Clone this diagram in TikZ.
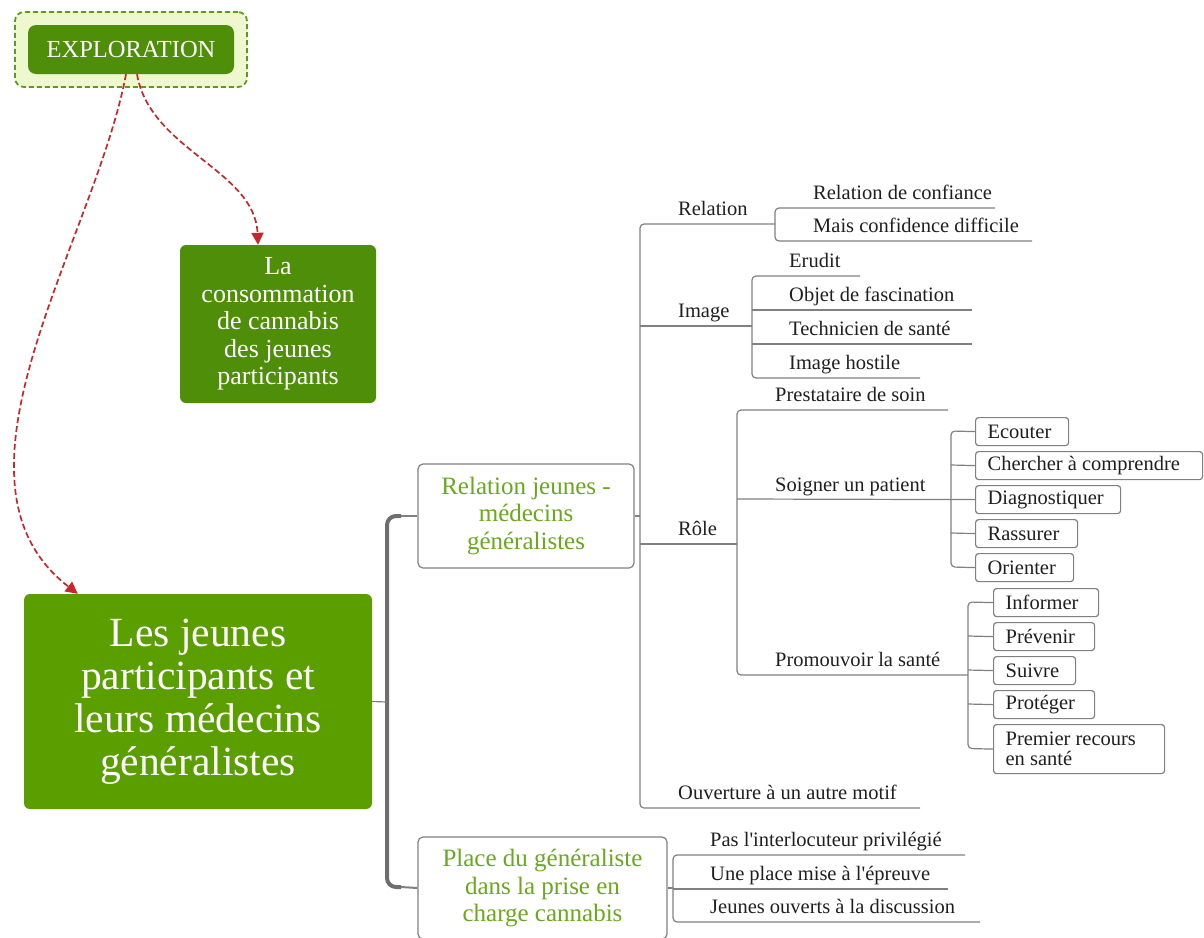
\documentclass[tikz,border=0pt]{standalone}
\usepackage{fontspec}
\setmainfont{Liberation Serif}[Ligatures=TeXOff]
\usetikzlibrary{arrows.meta}
\definecolor{dkgreen}{HTML}{4E8E08}
\definecolor{mgreen}{HTML}{5A9E00}
\definecolor{lgfill}{HTML}{EEF7CD}
\definecolor{dashgreen}{HTML}{5E9A1E}
\definecolor{txgreen}{HTML}{6AA81E}
\definecolor{lnk}{HTML}{808080}
\definecolor{bar}{HTML}{6E6E6E}
\definecolor{arr}{HTML}{C4282A}
\definecolor{txt}{HTML}{1F1F1F}
\begin{document}
\begin{tikzpicture}[x=1pt,y=-1pt,
  conn/.style={draw=lnk,line width=1.2pt},
  rconn/.style={conn,rounded corners=4pt},
  lbl/.style={anchor=base west,inner sep=0pt,text=txt,font=\fontsize{20.5}{24}\selectfont},
  leaf/.style={draw=lnk,line width=1.2pt,rounded corners=3pt,fill=white,anchor=north west,
    inner xsep=12pt,inner ysep=0pt,minimum height=28pt,text width=#1,align=flush left,
    text=txt,font=\fontsize{20.5}{20}\selectfont},
  greenbox/.style={rounded corners=6pt,text=white,align=center,inner sep=0pt},
  topic/.style={draw=lnk,line width=1.2pt,rounded corners=5pt,fill=white,align=center,
    text=txgreen,inner sep=0pt,font=\fontsize{25}{27.5}\selectfont},
  redarrow/.style={draw=arr,line width=1.7pt,dash pattern=on 6pt off 3pt,
    -{Triangle[length=12pt,width=12pt]}}
]
\useasboundingbox (0,0) rectangle (1204,937);
\clip (0,0) rectangle (1204,937);

% ---------- green boxes ----------
\node[draw=dashgreen,dash pattern=on 5pt off 3pt,line width=1.8pt,fill=lgfill,
  rounded corners=9pt,minimum width=232pt,minimum height=75pt] (exploouter) at (131,49.5) {};
\node[greenbox,fill=dkgreen,rounded corners=8pt,minimum width=206pt,minimum height=49pt,
  font=\fontsize{24.5}{27}\selectfont] (explo) at (131,49.5) {EXPLORATION};
\node[greenbox,fill=dkgreen,minimum width=196pt,minimum height=158pt,
  font=\fontsize{26}{27.5}\selectfont] (conso) at (278,324)
  {La\\consommation\\de cannabis\\des jeunes\\participants};
\node[greenbox,fill=mgreen,minimum width=348pt,minimum height=215pt,
  font=\fontsize{41.5}{43}\selectfont] (main) at (198,701.5)
  {Les jeunes\\participants et\\leurs médecins\\généralistes};

% ---------- red dashed arrows ----------
\draw[redarrow] ([xshift=-5pt]explo.south) .. controls (95,240) and (-70,480) .. ([xshift=54pt]main.north west);
\draw[redarrow] ([xshift=6pt]explo.south) .. controls (150,150) and (255,170) .. ([xshift=-20pt]conso.north);

% ---------- topics ----------
\node[topic,minimum width=216pt,minimum height=104pt] (relj) at (526,516)
  {Relation jeunes -\\médecins\\généralistes};
\node[topic,minimum width=249pt,minimum height=102pt] (place) at (542.5,888)
  {Place du généraliste\\dans la prise en\\charge cannabis};

\coordinate (barT) at (387,516);
\coordinate (barB) at (387,887);
\coordinate (barM) at (387,702);
\draw[draw=bar,line width=4pt,rounded corners=9pt] (401,516) -- (barT) -- (barB) -- (401,887);
\draw[draw=lnk,line width=2pt] (401,516) -- (relj.west);
\draw[draw=lnk,line width=2pt] (401,887) -- (place.west);
\draw[conn] (main.east) -- (barM);

% ---------- level 2 under Relation jeunes ----------
\coordinate (v2T) at (640,224);
\coordinate (v2B) at (640,808);
\coordinate (ouvE) at (920,808);
\draw[rconn] (775,224) -- (v2T) -- (v2B) -- (ouvE);
\draw[conn] (relj.east) -- (640,516);
\node[lbl] (lrel) at (678,215) {Relation};
\node[lbl] (limg) at (678,317) {Image};
\node[lbl] (lrole) at (678,535) {Rôle};
\node[lbl] (louv) at (678,799) {Ouverture à un autre motif};

% Relation children
\draw[rconn] (995,208) -- (775,208) -- (775,241) -- (1032,241);
\node[lbl] (rc1) at (813,199) {Relation de confiance};
\node[lbl] (rc2) at (813,232) {Mais confidence difficile};

% Image children
\draw[conn] (640,326) -- (752,326);
\draw[rconn] (860,276) -- (752,276) -- (752,378) -- (920,378);
\draw[conn] (752,310) -- (972,310);
\draw[conn] (752,344) -- (972,344);
\node[lbl] (ic1) at (789,267) {Erudit};
\node[lbl] (ic2) at (789,301) {Objet de fascination};
\node[lbl] (ic3) at (789,335) {Technicien de santé};
\node[lbl] (ic4) at (789,369) {Image hostile};

% Rôle children
\draw[conn] (640,544) -- (737,544);
\draw[rconn] (948,410) -- (737,410) -- (737,675) -- (968,675);
\node[lbl] (pres) at (775,401) {Prestataire de soin};
\node[lbl] (soig) at (775,491) {Soigner un patient};
\node[lbl] (prom) at (775,666) {Promouvoir la santé};

% Soigner un patient boxes
\node[leaf=69pt] (ecou) at (975,417) {Ecouter};
\node[leaf=203pt] (cher) at (975,451) {Chercher à comprendre};
\node[leaf=121pt] (diag) at (975,485) {Diagnostiquer};
\node[leaf=78pt] (rass) at (975,519) {Rassurer};
\node[leaf=74pt] (orie) at (975,553) {Orienter};
\draw[conn] (737,499) -- (diag.west);
\draw[rconn] (ecou.west) -- (951,431) -- (951,567) -- (orie.west);
\draw[conn] (951,465) -- (cher.west);
\draw[conn] (951,533) -- (rass.west);

% Promouvoir la santé boxes
\node[leaf=81pt] (info) at (993,588) {Informer};
\node[leaf=77pt] (prev) at (993,622) {Prévenir};
\node[leaf=58pt] (suiv) at (993,656) {Suivre};
\node[leaf=77pt] (prot) at (993,690) {Protéger};
\node[leaf=147pt,minimum height=49pt] (prem) at (993,724) {Premier recours\\en santé};
\draw[rconn] (info.west) -- (968,602) -- (968,748.5) -- (prem.west);
\draw[conn] (968,636) -- (prev.west);
\draw[conn] (968,670) -- (suiv.west);
\draw[conn] (968,704) -- (prot.west);

% ---------- Place du généraliste children ----------
\draw[conn] (place.east) -- (673,888);
\draw[rconn] (965,855) -- (673,855) -- (673,922) -- (980,922);
\draw[conn] (673,889) -- (948,889);
\node[lbl] (pc1) at (710,846) {Pas l'interlocuteur privilégié};
\node[lbl] (pc2) at (710,880) {Une place mise à l'épreuve};
\node[lbl] (pc3) at (710,913) {Jeunes ouverts à la discussion};
\end{tikzpicture}
\end{document}
